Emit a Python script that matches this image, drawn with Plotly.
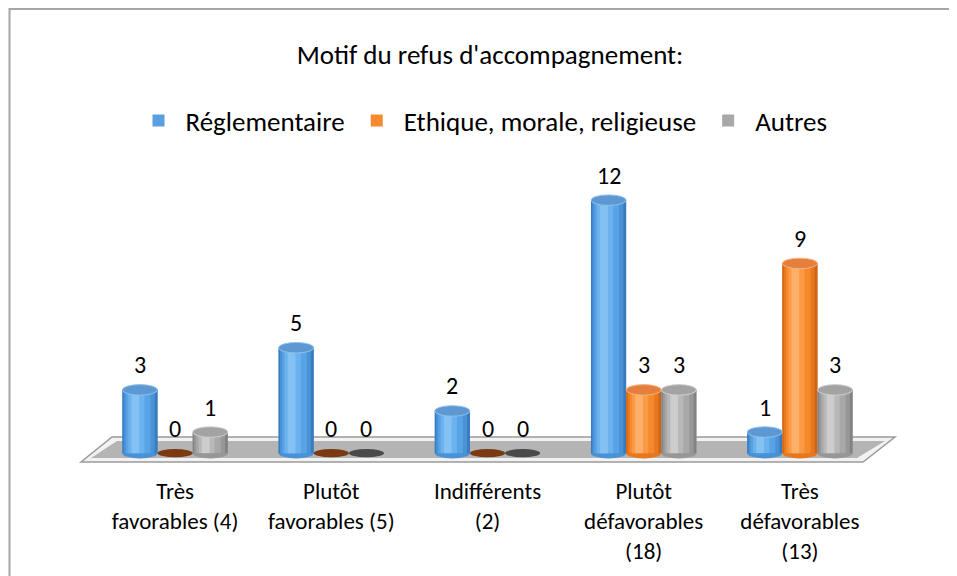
import plotly.graph_objects as go

# ---------------- data ----------------
categories = ["Très<br>favorables (4)", "Plutôt<br>favorables (5)", "Indifférents<br>(2)",
              "Plutôt<br>défavorables<br>(18)", "Très<br>défavorables<br>(13)"]
series_names = ["Réglementaire", "Ethique, morale, religieuse", "Autres"]
reglementaire = [3, 5, 2, 12, 1]
ethique = [0, 0, 0, 3, 9]
autres = [1, 0, 0, 3, 3]
title_text = "Motif du refus d'accompagnement:"

# ---------------- style ----------------
OFF = 8                      # page body margin of the html page
W, H = 957 - OFF, 576 - OFF
ML, MR, MT, MB = 97 - OFF, 79, 158 - OFF, 106
FONT = "Carlito, Lato, 'Open Sans', sans-serif"
styles = [
    dict(tones=["#3a7bbf", "#4a92d6", "#58a2e6", "#6cb2ee", "#84c2f4"], cap="#5e98d3",
         rim="#8cc2ee", zero="#2e5f94", legend="#5aa0e0"),
    dict(tones=["#cf6416", "#e8781f", "#f5892b", "#fa9a44", "#fdb06b"], cap="#e57f3e",
         rim="#f8b27a", zero="#7b3a12", legend="#f58a2e"),
    dict(tones=["#828282", "#979797", "#a8a8a8", "#b8b8b8", "#cdcdcd"], cap="#a3a3a3",
         rim="#cfcfcf", zero="#4a4a4a", legend="#a8a8a8"),
]
widths = [1.0, 0.88, 0.7, 0.46, 0.22]
shifts = [0.0, -0.02, -0.05, -0.1, -0.13]
BW = 0.225           # bar width in category units
CAP = 0.25           # half-height of the ellipse caps (value units)

# helpers converting window pixels to paper fractions
def px_x(p):
    return (p - OFF - ML) / (W - ML - MR)

def px_y(p):
    return 1 - (p - OFF - MT) / (H - MT - MB)

fig = go.Figure()
shapes = []
annotations = []

# chart frame
shapes.append(dict(type="rect", xref="paper", yref="paper",
                   x0=px_x(9.5), x1=px_x(965), y0=px_y(9), y1=px_y(585),
                   line=dict(color="#a6a6a6", width=2), fillcolor="rgba(0,0,0,0)",
                   layer="below"))
# floor
def para(xl_top, xr_top, xr_bot, xl_bot, yt, yb):
    return (f"M {px_x(xl_top)} {px_y(yt)} L {px_x(xr_top)} {px_y(yt)} "
            f"L {px_x(xr_bot)} {px_y(yb)} L {px_x(xl_bot)} {px_y(yb)} Z")
shapes.append(dict(type="path", xref="paper", yref="paper",
                   path=para(112, 895, 863, 81, 437, 462),
                   fillcolor="#f2f2f2", line=dict(color="#9a9a9a", width=1.5), layer="below"))
shapes.append(dict(type="path", xref="paper", yref="paper",
                   path=para(117, 885, 857, 91, 441, 458),
                   fillcolor="#b4b4b4", line=dict(width=0), layer="below"))

all_series = [reglementaire, ethique, autres]
for k, (name, vals, st) in enumerate(zip(series_names, all_series, styles)):
    xs = [i + (k - 1) * BW for i in range(len(vals))]
    fig.add_trace(go.Bar(x=xs, y=vals, width=BW, name=name,
                         marker=dict(color=st["legend"], line=dict(width=0)),
                         legendrank=k, showlegend=True, hoverinfo="skip"))
    for tone, wf, sh in zip(st["tones"], widths, shifts):
        fig.add_trace(go.Bar(x=[x + sh * BW for x in xs], y=vals, width=BW * wf,
                             marker=dict(color=tone, line=dict(width=0)),
                             showlegend=False, hoverinfo="skip"))
    for x, v in zip(xs, vals):
        if v > 0:
            shapes.append(dict(type="circle", xref="x", yref="y", layer="below",
                               x0=x - BW / 2, x1=x + BW / 2, y0=-CAP, y1=CAP,
                               fillcolor=st["tones"][1], line=dict(width=0)))
            shapes.append(dict(type="circle", xref="x", yref="y", layer="above",
                               x0=x - BW / 2, x1=x + BW / 2, y0=v - CAP, y1=v + CAP,
                               fillcolor=st["cap"], line=dict(color=st["rim"], width=1)))
        else:
            shapes.append(dict(type="circle", xref="x", yref="y", layer="above",
                               x0=x - BW / 2, x1=x + BW / 2, y0=-CAP * 0.8, y1=CAP * 0.8,
                               fillcolor=st["zero"], line=dict(width=0)))
        annotations.append(dict(x=x, y=v, xref="x", yref="y", text=str(v), showarrow=False,
                                yshift=25, yanchor="middle",
                                font=dict(family=FONT, size=24, color="#000000")))

fig.update_layout(
    width=W, height=H,
    margin=dict(l=ML, r=MR, t=MT, b=MB, autoexpand=False),
    barmode="overlay",
    paper_bgcolor="white", plot_bgcolor="rgba(0,0,0,0)",
    font=dict(family=FONT, size=22, color="#000000"),
    title=dict(text=title_text, x=(490 - OFF) / W, xanchor="center", xref="container",
               y=1 - (55 - OFF) / H, yanchor="middle", yref="container",
               font=dict(family=FONT, size=27, color="#000000")),
    legend=dict(orientation="h", x=px_x(482), xanchor="center", y=px_y(121), yanchor="middle",
                font=dict(family=FONT, size=27), itemsizing="constant", itemwidth=44,
                bgcolor="rgba(0,0,0,0)", traceorder="normal"),
    xaxis=dict(range=[-0.5, 4.5], tickmode="array", tickvals=list(range(len(categories))),
               ticktext=categories, showgrid=False, zeroline=False, showline=False,
               ticks="", ticklabelstandoff=5, tickfont=dict(family=FONT, size=23),
               fixedrange=True),
    yaxis=dict(range=[-0.8, 14], visible=False, fixedrange=True),
    shapes=shapes,
    annotations=annotations,
    showlegend=True,
)

fig.write_html("out.html")
